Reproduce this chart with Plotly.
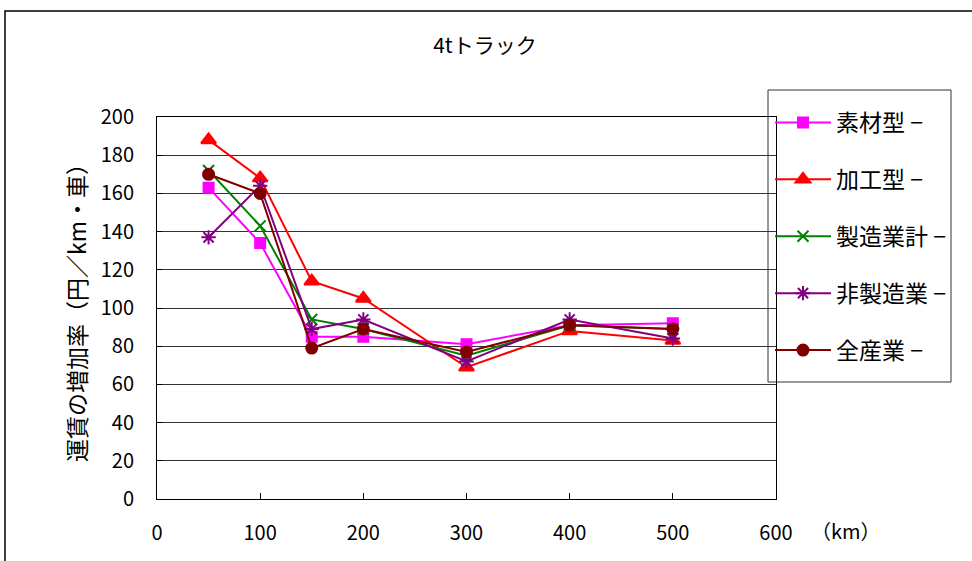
import plotly.graph_objects as go

distance_km = [50, 100, 150, 200, 300, 400, 500]

sozai = [163, 134, 85, 85, 81, 91, 92]
kakou = [188, 168, 114, 105, 69, 88, 83]
seizou_kei = [172, 143, 94, 89, 75, 91, 89]
hi_seizou = [137, 164, 89, 94, 72, 94, 84]
zen_sangyo = [170, 160, 79, 89, 77, 91, 89]

series_names = ["素材型 −", "加工型 −", "製造業計 −", "非製造業 −", "全産業 −"]
y_ticks = [0, 20, 40, 60, 80, 100, 120, 140, 160, 180, 200]
x_ticks = [0, 100, 200, 300, 400, 500, 600]

FONT = "Noto Sans CJK JP"

styles = [
    dict(color="#FF00FF", symbol="square", size=10),
    dict(color="#FF0000", symbol="triangle-up", size=13),
    dict(color="#008000", symbol="x-thin-open", size=11),
    dict(color="#800080", symbol="asterisk-open", size=12),
    dict(color="#800000", symbol="circle", size=11),
]
values = [sozai, kakou, seizou_kei, hi_seizou, zen_sangyo]

# plot area in page pixels
L, R, T, B = 157, 776, 117, 499
PW, PH = R - L, B - T


def px(xp):
    return (xp - L) / PW


def py(yp):
    return (B - yp) / PH


fig = go.Figure()
for i, (name, vals, st) in enumerate(zip(series_names, values, styles)):
    fig.add_trace(go.Scatter(
        x=distance_km, y=vals, name=name, mode="lines+markers",
        legendgroup=f"g{i}",
        line=dict(color=st["color"], width=2),
        marker=dict(symbol=st["symbol"], size=st["size"], color=st["color"],
                    line=dict(color=st["color"], width=2)),
    ))

fig.update_layout(
    width=972, height=561,
    margin=dict(l=L, r=972 - R, t=T, b=561 - B),
    paper_bgcolor="white", plot_bgcolor="white",
    font=dict(family=FONT, size=20, color="black"),
    title=dict(text="4tトラック", x=px(485), xref="paper", xanchor="center",
               y=1 - 46 / 561, yanchor="middle", font=dict(size=21)),
    showlegend=True,
    legend=dict(x=px(770), y=py(101), xanchor="left", yanchor="top",
                borderwidth=0, bgcolor="rgba(0,0,0,0)",
                traceorder="grouped", tracegroupgap=24, itemwidth=56,
                font=dict(size=23), itemclick=False),
    xaxis=dict(range=[0, 600], tickvals=x_ticks, showgrid=False,
               showline=True, linecolor="black", linewidth=1, mirror=True,
               ticks="inside", ticklen=6, tickcolor="black",
               ticklabelstandoff=16, tickfont=dict(size=20), zeroline=False),
    yaxis=dict(range=[0, 200], tickvals=y_ticks, showgrid=True,
               gridcolor="#333333", gridwidth=1,
               showline=True, linecolor="black", linewidth=1, mirror=True,
               ticks="inside", ticklen=5, tickcolor="black",
               ticklabelstandoff=18, tickfont=dict(size=20), zeroline=False),
)

fig.add_annotation(text="（km）", xref="paper", yref="paper",
                   x=px(846), y=py(530),
                   showarrow=False, font=dict(size=20), xanchor="center", yanchor="middle")
fig.add_annotation(text="運賃の増加率（円／km・車）", xref="paper", yref="paper",
                   x=px(76), y=py(307), textangle=-90,
                   showarrow=False, font=dict(size=23), xanchor="center", yanchor="middle")

# outer chart frame
fig.add_shape(type="rect", xref="paper", yref="paper",
              x0=px(5), x1=px(990), y0=py(580), y1=py(11),
              line=dict(color="black", width=1.5), layer="below")
# legend frame
fig.add_shape(type="rect", xref="paper", yref="paper",
              x0=px(768), x1=px(951), y0=py(382), y1=py(90),
              line=dict(color="#333333", width=1), fillcolor="white", layer="below")

fig.write_html("out.html", config={"displayModeBar": False},
               post_script="document.body.style.margin='0';")
